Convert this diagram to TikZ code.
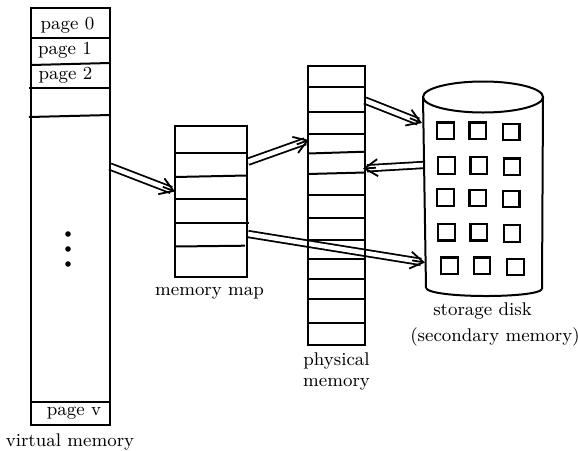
\documentclass[tikz,border=0pt]{standalone}
\usetikzlibrary{arrows.meta,calc,backgrounds}
\begin{document}
\begin{tikzpicture}[x=0.5pt,y=-0.5pt]
\tikzset{
  membox/.style={draw, line width=1pt, inner sep=0pt},
  sep/.style={line width=1pt},
  lbl/.style={inner sep=0pt, anchor=base, font=\fontsize{9.2}{11}\selectfont},
  dblline/.style={double, double distance=2.3pt, line width=0.9pt},
  chevtip/.style={line width=0.9pt, -{Straight Barb[length=6.5pt,width=8.5pt]}},
  sq/.style={draw, line width=1.1pt, minimum size=8.3pt, inner sep=0pt},
  cyl/.style={line width=1pt},
}
\path[use as bounding box] (0,0) rectangle (578,450);

% boxes
\node[membox, minimum width=39.5pt, minimum height=208.5pt] (vm) at (70.5,216.5) {};
\node[membox, minimum width=36pt, minimum height=75.5pt] (mm) at (211,201.5) {};
\node[membox, minimum width=28.5pt, minimum height=139.5pt] (pm) at (336.5,205.5) {};

% virtual memory rows
\draw[sep] (31,38) -- (110,38);
\draw[sep] (31,65) -- (110,63);
\draw[sep] (29,88) -- (110,88);
\draw[sep] (29,117) -- (110,115);
\draw[sep] (31,402) -- (110,402);

% memory map rows
\draw[sep] (175,153) -- (247,153);
\draw[sep] (175,177) -- (247,175.5);
\draw[sep] (175,199) -- (247,199);
\draw[sep] (175,223) -- (249,223);
\draw[sep] (175,246.5) -- (245,245.7);

% physical memory rows
\foreach \yy in {87,112,134,195,218,240,259,279,299,323}
  \draw[sep] (308,\yy) -- (365,\yy);
\draw[sep] (308,153.5) -- (365,151.7);
\draw[sep] (308,174) -- (365,172.5);

% storage disk (cylinder)
\draw[cyl] (483,97) ellipse [x radius=30pt, y radius=7.75pt];
\draw[cyl] (423,97) -- (426,288);
\draw[cyl] (543,97) -- (542,289);
\draw[cyl] (426,288) .. controls (430,298.5) and (538,298.5) .. (542,289);

% squares on the disk
\node[sq] (s11) at (445.3,130.8) {};
\node[sq] (s12) at (477.8,130.8) {};
\node[sq] (s13) at (511.2,132) {};
\node[sq] (s21) at (446.3,165.5) {};
\node[sq] (s22) at (478.7,165.3) {};
\node[sq] (s23) at (512,166.7) {};
\node[sq] (s31) at (445.3,197.5) {};
\node[sq] (s32) at (477.8,198) {};
\node[sq] (s33) at (511.2,199) {};
\node[sq] (s41) at (446.3,232.2) {};
\node[sq] (s42) at (478.8,232.2) {};
\node[sq] (s43) at (512,233.3) {};
\node[sq] (s51) at (449.5,265.8) {};
\node[sq] (s52) at (482,265.8) {};
\node[sq] (s53) at (515.3,267) {};

% dots
\fill (68,234) circle (1.4pt);
\fill (68,249) circle (1.4pt);
\fill (68,264) circle (1.4pt);

% labels
\node[lbl] (p0) at (67.5,29) {page 0};
\node[lbl] (p1) at (65,54.5) {page 1};
\node[lbl] (p2) at (65.5,79.5) {page 2};
\node[lbl] (pv) at (74,415) {page v};
\node[lbl] (vml) at (70,446.5) {virtual memory};
\node[lbl] (mml) at (209.5,295) {memory map};
\node[lbl] (pml1) at (336.5,365) {physical};
\node[lbl] (pml2) at (336.5,386) {memory};
\node[lbl] (sdl1) at (482.5,315) {storage disk};
\node[lbl] (sdl2) at (495,341.5) {(secondary memory)};

% arrow end points
\coordinate (a1s) at (110,166.5);
\coordinate (a1e) at (175,191.5);
\coordinate (a2s) at (248,161.7);
\coordinate (a2e) at (309,140);
\coordinate (a3s) at (365,100.5);
\coordinate (a3e) at (422,123);
\coordinate (a4s) at (423,165);
\coordinate (a4e) at (363,168.5);
\coordinate (a5s) at (248,234);
\coordinate (a5e) at (425,262.5);

\begin{scope}[on background layer]
  \fill[white] (0,0) rectangle (578,450);
  \foreach \s/\e in {a1s/a1e,a2s/a2e,a3s/a3e,a4s/a4e,a5s/a5e}{
    \draw[dblline] (\s) -- ($(\e)!2pt!(\s)$);
    \draw[chevtip] ($(\e)!6.5pt!(\s)$) -- (\e);
  }
\end{scope}
\end{tikzpicture}
\end{document}
